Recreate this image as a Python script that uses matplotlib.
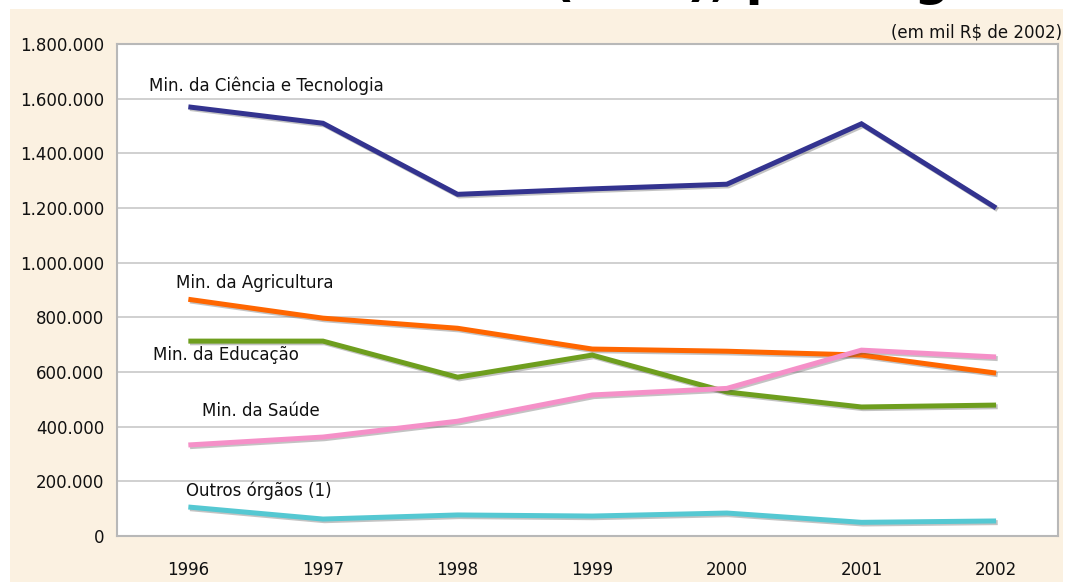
import matplotlib.pyplot as plt
import matplotlib.patheffects as pe
from matplotlib.patches import Rectangle
from matplotlib.ticker import FuncFormatter

plt.rcParams['font.family'] = ['DejaVu Sans']

years = ['1996', '1997', '1998', '1999', '2000', '2001', '2002']
ciencia = [1570000, 1510000, 1250000, 1270000, 1287000, 1508000, 1200000]
agricultura = [866000, 797000, 760000, 684000, 676000, 662000, 596000]
educacao = [713000, 713000, 581000, 662000, 527000, 472000, 479000]
saude = [333000, 362000, 420000, 516000, 540000, 680000, 655000]
outros = [106000, 62000, 77000, 73000, 84000, 50000, 55000]

series = [
    (ciencia, '#33338F', 'Min. da Ciência e Tecnologia', (-0.29, 1649000)),
    (agricultura, '#FF6600', 'Min. da Agricultura', (-0.09, 925000)),
    (educacao, '#6E9E1E', 'Min. da Educação', (-0.26, 662000)),
    (saude, '#F590C8', 'Min. da Saúde', (0.10, 457000)),
    (outros, '#55C8D2', 'Outros órgãos (1)', (-0.015, 165000)),
]

fig = plt.figure(figsize=(10.68, 5.82), dpi=100, facecolor='white')
# beige panel behind the chart
fig.patches.append(Rectangle((10 / 1068, 0), 1053 / 1068, 573 / 582,
                             transform=fig.transFigure, facecolor='#FBF1E1',
                             edgecolor='none', zorder=-5))

# title, mostly cut off by the top edge
fig.text(552 / 1068, 1 + 5 / 582, '(C&T), por órgão', fontsize=35.5,
         fontweight='bold', ha='left', va='baseline', color='black')

ax = fig.add_axes([117 / 1068, 1 - 536 / 582, 941 / 1068, 492 / 582])
ax.set_facecolor('white')

x = list(range(len(years)))
shadow = [pe.SimpleLineShadow(offset=(1.2, -1.2), alpha=0.35, shadow_color='#555555'),
          pe.Normal()]
for vals, color, label, (lx, ly) in series:
    ax.plot(x, vals, color=color, linewidth=3.6, solid_capstyle='butt',
            solid_joinstyle='miter', path_effects=shadow, zorder=3)
    ax.text(lx, ly, label, fontsize=12, ha='left', va='center', color='#111111', zorder=4)

ax.set_xlim(-0.53, 6.46)
ax.set_ylim(0, 1800000)
ax.set_xticks(x)
ax.set_xticklabels(years)
ax.set_yticks(range(0, 1800001, 200000))
ax.yaxis.set_major_formatter(FuncFormatter(lambda v, p: f'{int(v):,}'.replace(',', '.')))
ax.tick_params(axis='both', length=0, labelsize=12, colors='#111111')
ax.tick_params(axis='x', pad=18)
ax.tick_params(axis='y', pad=9)
ax.grid(axis='y', color='#C8C8C8', linewidth=1.2)
ax.set_axisbelow(True)
for s in ax.spines.values():
    s.set_color('#B8B8B8')
    s.set_linewidth(1.5)

fig.text(1062 / 1068, 1 - 32 / 582, '(em mil R\\$ de 2002)', fontsize=12,
         ha='right', va='center', color='#111111')

fig.savefig('out.png', dpi=100)
